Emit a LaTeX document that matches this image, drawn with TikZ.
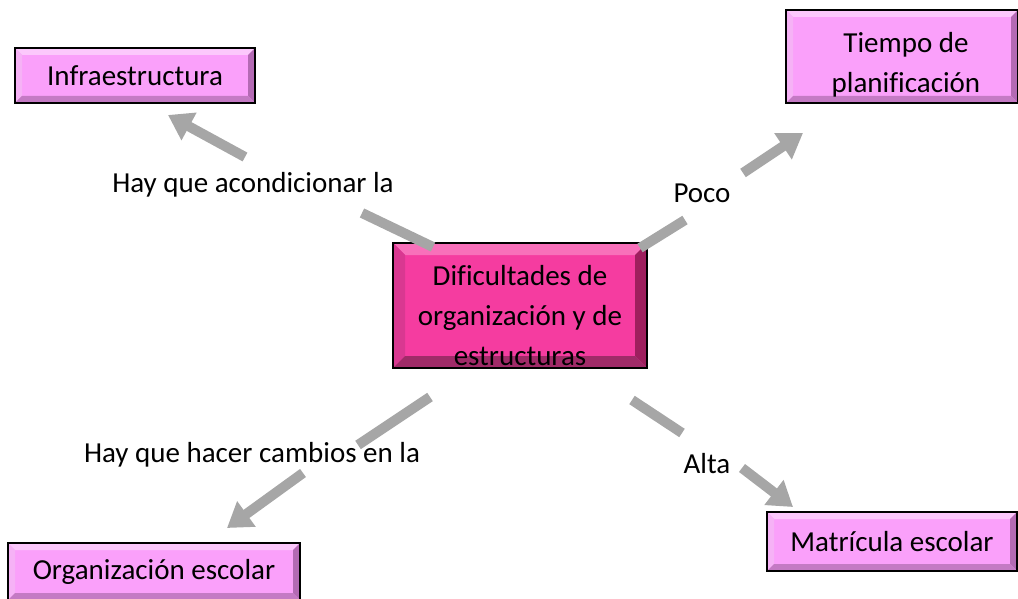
\documentclass[tikz,border=0pt]{standalone}
\usepackage{fontspec}
\setmainfont[Ligatures=NoCommon]{Carlito}
\usetikzlibrary{arrows.meta}
\definecolor{lpink}{RGB}{250,160,250}
\definecolor{lpinkT}{RGB}{252,200,252}
\definecolor{lpinkL}{RGB}{246,178,246}
\definecolor{lpinkR}{RGB}{180,106,180}
\definecolor{lpinkB}{RGB}{196,122,196}
\definecolor{mpink}{RGB}{245,60,160}
\definecolor{mpinkT}{RGB}{248,112,186}
\definecolor{mpinkL}{RGB}{217,56,145}
\definecolor{mpinkR}{RGB}{158,31,94}
\definecolor{mpinkB}{RGB}{160,43,104}
\definecolor{arrowgray}{RGB}{166,166,166}
\tikzset{
  bevel/.style n args={5}{path picture={
    \fill[#2] (path picture bounding box.north west) -- (path picture bounding box.north east)
      -- ([xshift=-#1,yshift=-#1]path picture bounding box.north east)
      -- ([xshift=#1,yshift=-#1]path picture bounding box.north west) -- cycle;
    \fill[#3] (path picture bounding box.north west) -- (path picture bounding box.south west)
      -- ([xshift=#1,yshift=#1]path picture bounding box.south west)
      -- ([xshift=#1,yshift=-#1]path picture bounding box.north west) -- cycle;
    \fill[#4] (path picture bounding box.north east) -- (path picture bounding box.south east)
      -- ([xshift=-#1,yshift=#1]path picture bounding box.south east)
      -- ([xshift=-#1,yshift=-#1]path picture bounding box.north east) -- cycle;
    \fill[#5] (path picture bounding box.south west) -- (path picture bounding box.south east)
      -- ([xshift=-#1,yshift=#1]path picture bounding box.south east)
      -- ([xshift=#1,yshift=#1]path picture bounding box.south west) -- cycle;
  }},
  smallbox/.style={rectangle, draw=black, line width=2pt, fill=lpink, inner sep=0pt,
    align=center, font=\fontsize{29}{40}\selectfont,
    bevel={7pt}{lpinkT}{lpinkL}{lpinkR}{lpinkB}},
  bigbox/.style={rectangle, draw=black, line width=2pt, fill=mpink, inner sep=0pt,
    align=center, font=\fontsize{29}{40}\selectfont,
    bevel={12pt}{mpinkT}{mpinkL}{mpinkR}{mpinkB}},
  lbl/.style={inner sep=0pt, anchor=base, font=\fontsize{29}{40}\selectfont},
  conn/.style={draw=arrowgray, line width=10pt},
  connarrow/.style={conn, -{Triangle[length=24pt,width=30pt]}}
}
\begin{document}
\begin{tikzpicture}[x=1pt,y=-1pt]
\useasboundingbox (0,0) rectangle (1018,599);
% boxes
\node[smallbox, minimum width=240pt, minimum height=55pt] (infra) at (135,75.5) {Infraestructura};
\node[smallbox, minimum width=232pt, minimum height=93pt] (tiempo) at (902,56.5) {\rule{0pt}{36pt}\hspace*{8pt}Tiempo de\\\hspace*{8pt}planificación};
\node[bigbox, minimum width=254pt, minimum height=125pt] (centro) at (520,305.5) {\rule{0pt}{40pt}Dificultades de\\organización y de\\estructuras};
\node[smallbox, minimum width=292pt, minimum height=57pt] (org) at (154,571.5) {Organización escolar};
\node[smallbox, minimum width=250pt, minimum height=59pt] (matri) at (892,541.5) {Matrícula escolar};
% labels
\node[lbl] (l1) at (253,193) {Hay que acondicionar la};
\node[lbl] (l2) at (702,203) {Poco};
\begin{scope}
\clip (0,0) rectangle (1018,466);
\node[lbl] (l3) at (252,462) {Hay que hacer cambios en la};
\end{scope}
\node[lbl] (l4) at (707,473) {Alta};
% connector coordinates
\coordinate (a1) at (433,247); \coordinate (a2) at (362,213);
\coordinate (a3) at (245,157); \coordinate (a4) at (168,115);
\coordinate (b1) at (640,248); \coordinate (b2) at (685,220);
\coordinate (b3) at (743,173); \coordinate (b4) at (803,133);
\coordinate (c1) at (430,397); \coordinate (c2) at (358,445);
\coordinate (c3) at (303,473); \coordinate (c4) at (227,528);
\coordinate (d1) at (632,400); \coordinate (d2) at (682,433);
\coordinate (d3) at (742,468); \coordinate (d4) at (793,507);
% connectors
\draw[conn] (a1) -- (a2);
\draw[connarrow] (a3) -- (a4);
\draw[conn] (b1) -- (b2);
\draw[connarrow] (b3) -- (b4);
\draw[conn] (c1) -- (c2);
\draw[connarrow] (c3) -- (c4);
\draw[conn] (d1) -- (d2);
\draw[connarrow] (d3) -- (d4);
\end{tikzpicture}
\end{document}
